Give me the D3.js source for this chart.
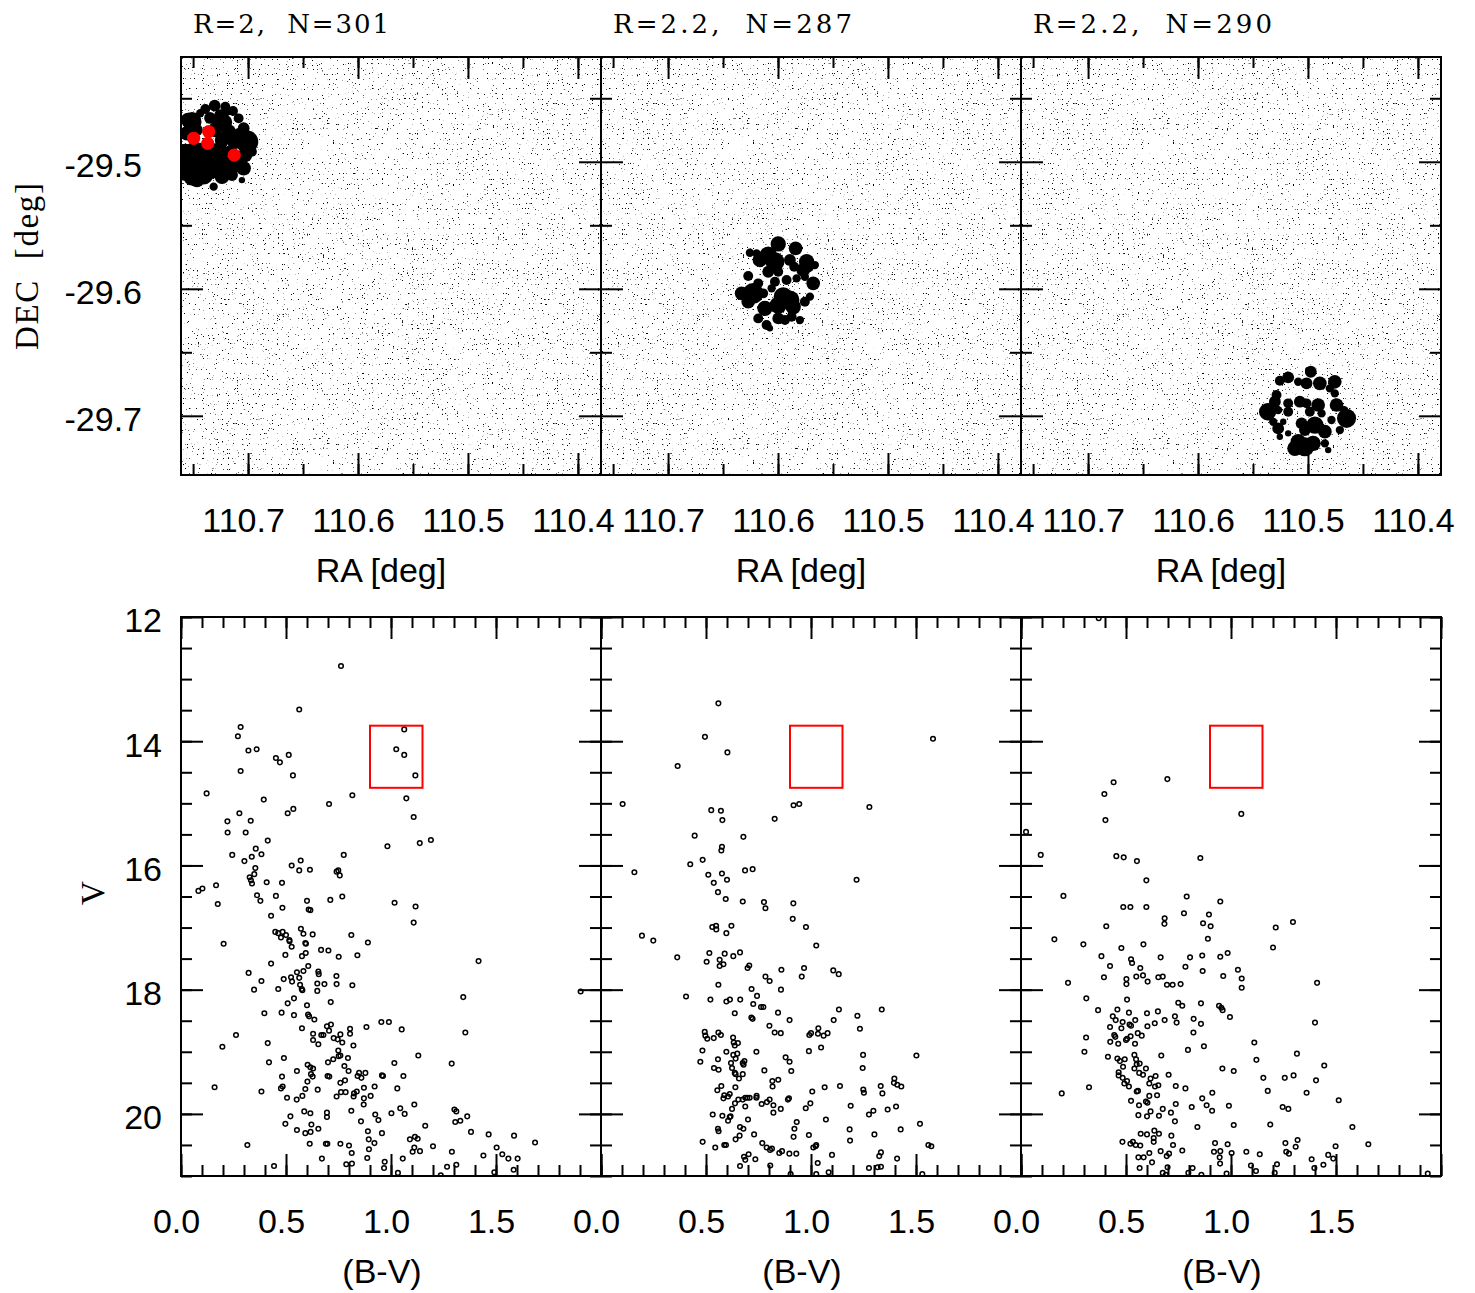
<!DOCTYPE html>
<html>
<head>
<meta charset="utf-8">
<script src="https://cdn.jsdelivr.net/npm/d3@7"></script>
<style>
  html, body { margin: 0; padding: 0; background: #fff; }
  svg { display: block; }
</style>
</head>
<body>
<svg id="fig" width="1475" height="1293"></svg>
<script>
// ---------------- data ----------------
const panelTitles = ["R=2,  N=301", "R=2.2,  N=287", "R=2.2,  N=290"];
const raTicks = [110.7, 110.6, 110.5, 110.4];
const decTicks = [-29.5, -29.6, -29.7];
const bvTicks = [0.0, 0.5, 1.0, 1.5];
const vTicks = [12, 14, 16, 18, 20];
const boxBV = [0.9, 1.15];
const boxV = [13.75, 14.75];

// cluster members on the sky: [RA, DEC, V]
const cluster1 = [
  [110.7389,-29.4584,16.63],[110.7304,-29.4558,15.89],[110.7207,-29.4566,16.63],[110.7137,-29.4600,16.63],
  [110.7192,-29.4606,17.26],[110.7435,-29.4618,17.26],[110.7253,-29.4632,15.89],[110.7086,-29.4658,16.63],
  [110.7510,-29.4684,13.73],[110.7267,-29.4697,14.84],[110.7040,-29.4736,15.89],[110.7176,-29.4763,14.84],
  [110.7010,-29.4842,13.24],[110.7556,-29.4776,14.84],[110.7237,-29.4829,14.84],[110.7419,-29.4894,15.89],
  [110.7571,-29.4947,13.24],[110.7510,-29.5025,12.50],[110.7358,-29.4999,13.24],[110.7237,-29.5025,13.62],
  [110.7116,-29.5012,13.73],[110.7040,-29.5051,14.84],[110.7404,-29.5104,13.73],[110.7237,-29.5118,14.84],
  [110.7510,-29.5118,13.98],[110.7313,-29.5196,17.26],[110.7056,-29.5144,18.00],[110.7146,-29.5104,15.89],
  [110.7601,-29.4999,13.73],[110.7344,-29.4947,14.84],[110.6965,-29.4921,16.63],[110.7465,-29.4750,15.89],
  [110.7298,-29.4894,16.63],[110.7162,-29.4907,16.63],[110.7483,-29.4907,13.98],[110.7301,-29.4750,14.84],
  [110.7210,-29.4687,14.84],[110.7074,-29.4789,14.84],[110.7546,-29.4671,14.84],[110.7165,-29.5025,13.98],
  [110.7328,-29.5065,13.98],[110.7574,-29.5081,13.98],[110.7028,-29.4947,14.84],[110.7437,-29.4986,13.98],
  [110.7119,-29.4844,14.84],[110.7237,-29.4923,14.84],[110.7346,-29.4655,15.89],[110.7465,-29.5144,14.84]
];
// members that fall inside the CMD box
const cluster1Box = [
  [110.7495,-29.4815,14.13],[110.7358,-29.4763,13.81],[110.7367,-29.4855,14.22],[110.7126,-29.4947,14.55]
];
const cluster2 = [
  [110.5998,-29.5647,14.52],[110.5840,-29.5681,15.15],[110.6089,-29.5734,13.98],[110.6165,-29.5773,14.84],
  [110.6028,-29.5787,13.73],[110.5892,-29.5773,15.89],[110.5740,-29.5787,14.52],[110.5771,-29.5852,15.15],
  [110.6195,-29.5721,17.26],[110.6256,-29.5716,17.26],[110.6089,-29.5866,15.89],[110.5998,-29.5866,16.63],
  [110.5853,-29.5826,16.63],[110.5726,-29.5826,15.89],[110.6271,-29.5899,16.63],[110.6180,-29.5957,16.63],
  [110.6028,-29.5944,16.63],[110.5922,-29.5931,16.63],[110.5831,-29.5918,17.26],[110.5756,-29.5905,17.26],
  [110.5680,-29.5957,15.15],[110.6331,-29.6036,15.15],[110.6226,-29.6036,13.50],[110.6271,-29.6102,15.15],
  [110.6135,-29.6036,16.63],[110.6058,-29.5996,17.26],[110.5953,-29.6062,13.73],[110.5892,-29.6088,13.73],
  [110.5998,-29.6128,13.98],[110.5862,-29.6141,14.52],[110.6119,-29.6154,14.52],[110.5756,-29.6102,16.63],
  [110.5710,-29.6062,17.26],[110.6180,-29.6233,16.63],[110.6104,-29.6285,16.63],[110.5998,-29.6233,15.89],
  [110.5937,-29.6246,16.63],[110.5876,-29.6220,16.63],[110.5801,-29.6246,17.26],[110.5665,-29.5813,17.26],
  [110.6074,-29.6311,18.00]
];
const cluster3 = [
  [110.5180,-29.6697,15.89],[110.5256,-29.6724,16.63],[110.5089,-29.6732,17.26],[110.5013,-29.6744,15.89],
  [110.4974,-29.6653,15.89],[110.4892,-29.6744,15.15],[110.4756,-29.6732,15.15],[110.4801,-29.6784,17.26],
  [110.5286,-29.6836,16.63],[110.5301,-29.6889,15.89],[110.5180,-29.6902,16.63],[110.5074,-29.6889,15.89],
  [110.5013,-29.6902,16.63],[110.4907,-29.6915,15.15],[110.4740,-29.6915,15.15],[110.4756,-29.6823,17.26],
  [110.5367,-29.6968,13.98],[110.5271,-29.6955,17.26],[110.5180,-29.6968,16.63],[110.4983,-29.6968,16.63],
  [110.4876,-29.6981,17.26],[110.4671,-29.6955,17.26],[110.4649,-29.7020,13.73],[110.5316,-29.7047,17.26],
  [110.5225,-29.7047,18.00],[110.5058,-29.7059,15.89],[110.4937,-29.7073,13.98],[110.4786,-29.7033,17.26],
  [110.5271,-29.7099,15.89],[110.5028,-29.7112,15.89],[110.4846,-29.7125,15.15],[110.4710,-29.7112,17.26],
  [110.5180,-29.7138,18.00],[110.5089,-29.7204,14.52],[110.5028,-29.7244,13.73],[110.4953,-29.7217,14.52],
  [110.5119,-29.7256,14.52],[110.4846,-29.7217,17.26],[110.4816,-29.7270,18.00],[110.5256,-29.7165,18.00],
  [110.4998,-29.6640,18.00]
];

// colour-magnitude diagrams: [B-V, V]
const cmd1 = [
  [0.762,12.79],[0.563,13.49],[1.063,13.81],[0.284,13.77],[0.271,13.92],[0.321,14.15],[0.360,14.13],[0.452,14.27],
  [0.471,14.34],[0.513,14.22],[1.025,14.13],[1.063,14.22],[1.116,14.55],[0.284,14.48],[0.533,14.55],[0.122,14.84],
  [0.816,14.87],[1.073,14.92],[0.394,14.94],[0.705,15.01],[0.535,15.09],[0.508,15.16],[0.278,15.16],[0.221,15.29],
  [0.332,15.28],[1.108,15.22],[0.222,15.47],[0.308,15.47],[0.413,15.60],[0.983,15.69],[1.137,15.64],[1.190,15.59],
  [0.244,15.83],[0.356,15.73],[0.383,15.82],[0.337,15.86],[0.775,15.83],[0.302,15.93],[0.570,15.92],[0.527,16.00],
  [0.354,16.04],[0.563,16.08],[0.614,16.07],[0.741,16.10],[0.749,16.08],[0.756,16.16],[0.349,16.14],[0.327,16.19],
  [0.333,16.24],[0.338,16.29],[0.408,16.27],[0.481,16.28],[0.167,16.32],[0.083,16.41],[0.102,16.37],[0.362,16.48],
  [0.452,16.49],[0.768,16.50],[0.378,16.57],[0.175,16.62],[0.483,16.68],[0.600,16.57],[0.608,16.71],[0.616,16.72],
  [0.711,16.555],[1.017,16.60],[1.117,16.66],[0.429,16.81],[1.108,16.92],[0.203,17.26],[0.571,17.02],[0.449,17.07],
  [0.463,17.09],[0.484,17.07],[0.476,17.16],[0.500,17.12],[0.516,17.20],[0.517,17.22],[0.583,17.10],[0.627,17.11],
  [0.592,17.25],[0.595,17.26],[0.527,17.31],[0.811,17.12],[0.890,17.24],[0.667,17.36],[0.702,17.37],[0.594,17.41],
  [0.576,17.46],[0.497,17.44],[0.751,17.47],[0.840,17.445],[1.417,17.54],[0.429,17.58],[0.322,17.73],[0.383,17.86],
  [0.348,18.00],[0.463,17.99],[0.489,17.83],[0.524,17.80],[0.529,17.87],[0.563,17.81],[0.552,17.72],[0.583,17.70],
  [0.606,17.62],[0.654,17.71],[0.656,17.75],[0.567,17.92],[0.575,17.99],[0.578,18.01],[0.649,17.90],[0.683,17.91],
  [0.740,17.78],[0.741,17.91],[0.649,18.02],[0.816,17.93],[1.903,18.03],[1.344,18.12],[0.713,18.20],[0.538,18.14],
  [0.508,18.22],[0.600,18.25],[0.397,18.38],[0.479,18.37],[0.538,18.41],[0.605,18.40],[0.610,18.43],[0.635,18.48],
  [0.262,18.73],[0.197,18.92],[0.576,18.62],[0.695,18.59],[0.714,18.56],[0.705,18.66],[0.629,18.71],[0.668,18.73],
  [0.678,18.73],[0.629,18.81],[0.654,18.88],[0.727,18.78],[0.746,18.80],[0.759,18.72],[0.768,18.85],[0.805,18.63],
  [0.805,18.71],[0.821,18.90],[0.883,18.60],[0.954,18.52],[0.990,18.52],[1.051,18.64],[1.354,18.69],[0.413,18.86],
  [0.749,18.98],[0.751,19.07],[0.759,19.06],[0.725,19.12],[0.700,19.17],[0.795,19.10],[1.130,19.06],[0.419,19.17],
  [0.490,19.10],[0.603,19.21],[0.616,19.25],[0.629,19.27],[0.552,19.31],[0.481,19.40],[0.619,19.36],[0.627,19.40],
  [0.698,19.39],[0.706,19.40],[0.778,19.23],[0.798,19.31],[0.848,19.34],[0.878,19.34],[0.841,19.39],[0.859,19.42],
  [0.957,19.38],[0.962,19.39],[1.059,19.39],[1.016,19.18],[1.289,19.19],[0.602,19.48],[0.484,19.56],[0.476,19.59],
  [0.160,19.57],[0.383,19.64],[0.592,19.60],[0.651,19.61],[0.578,19.71],[0.505,19.74],[0.551,19.77],[0.759,19.50],
  [0.781,19.46],[0.762,19.65],[0.784,19.65],[0.822,19.72],[0.824,19.67],[0.837,19.64],[0.741,19.72],[0.871,19.58],
  [0.871,19.75],[0.870,19.85],[0.903,19.71],[0.922,19.56],[1.030,19.59],[0.587,19.96],[0.616,19.99],[0.521,20.04],
  [0.497,20.16],[0.552,20.26],[0.592,20.31],[0.617,20.29],[0.621,20.17],[0.654,20.24],[0.695,19.98],[0.695,20.05],
  [0.811,19.95],[0.857,20.12],[0.925,20.01],[0.940,20.10],[1.002,19.99],[1.044,19.91],[1.065,20.00],[1.111,19.85],
  [1.163,20.19],[1.302,19.93],[1.311,19.96],[1.306,20.13],[1.330,20.11],[1.363,20.04],[1.381,20.29],[1.465,20.33],
  [1.586,20.35],[1.686,20.46],[0.890,20.28],[0.957,20.31],[0.894,20.41],[0.921,20.47],[0.895,20.57],[0.887,20.71],
  [1.090,20.41],[1.114,20.37],[1.127,20.40],[1.111,20.54],[1.103,20.61],[1.138,20.60],[1.200,20.52],[1.290,20.61],
  [0.316,20.50],[0.613,20.48],[0.690,20.48],[0.697,20.48],[0.759,20.48],[0.800,20.51],[0.813,20.63],[0.671,20.72],
  [0.787,20.81],[0.814,20.80],[0.443,20.84],[0.970,20.77],[0.967,20.87],[1.033,20.95],[1.056,20.72],[1.237,20.99],
  [1.267,20.85],[1.311,20.82],[1.440,20.67],[1.503,20.54],[1.530,20.65],[1.559,20.72],[1.603,20.72],[1.584,20.90],
  [1.492,20.94]
];
const cmd2 = [
  [0.559,13.39],[0.495,13.93],[0.602,14.18],[0.365,14.40],[1.581,13.96],[0.103,15.01],[0.525,15.11],[0.571,15.12],
  [0.578,15.27],[0.917,15.03],[0.944,15.01],[0.827,15.25],[1.278,15.06],[0.446,15.52],[0.678,15.54],[0.576,15.70],
  [0.573,15.76],[0.484,15.91],[0.425,15.98],[0.159,16.11],[0.511,16.15],[0.576,16.13],[0.537,16.28],[0.600,16.23],
  [0.686,16.08],[0.722,16.06],[1.217,16.23],[0.557,16.43],[0.594,16.54],[0.675,16.58],[0.776,16.59],[0.783,16.69],
  [0.916,16.61],[0.913,16.86],[0.976,16.99],[1.025,17.29],[0.195,17.13],[0.249,17.21],[0.363,17.48],[0.530,16.99],
  [0.548,16.97],[0.549,17.03],[0.621,16.97],[0.597,17.09],[0.516,17.41],[0.503,17.55],[0.589,17.42],[0.630,17.46],
  [0.662,17.40],[0.565,17.52],[0.565,17.62],[0.583,17.59],[0.698,17.65],[0.706,17.61],[0.783,17.79],[0.803,17.86],
  [0.859,17.68],[0.967,17.65],[0.956,17.79],[1.106,17.69],[1.132,17.75],[0.559,17.92],[0.405,18.11],[0.521,18.16],
  [0.597,18.19],[0.614,18.16],[0.663,18.16],[0.717,17.99],[0.743,18.10],[0.725,18.23],[0.762,18.28],[0.773,18.28],
  [0.857,18.00],[0.843,18.37],[0.637,18.38],[0.716,18.45],[0.722,18.47],[0.802,18.58],[0.827,18.69],[0.856,18.70],
  [0.898,18.49],[1.133,18.32],[1.108,18.49],[1.221,18.42],[1.337,18.32],[1.233,18.63],[0.992,18.73],[1.000,18.70],
  [1.035,18.62],[1.033,18.71],[1.060,18.74],[1.079,18.70],[1.048,18.93],[0.990,18.99],[0.494,18.68],[0.497,18.74],
  [0.506,18.79],[0.537,18.78],[0.559,18.69],[0.571,18.73],[0.629,18.77],[0.632,18.85],[0.637,18.90],[0.652,18.86],
  [0.483,18.98],[0.473,19.16],[0.597,19.00],[0.630,19.05],[0.649,19.03],[0.641,19.11],[0.619,19.18],[0.624,19.26],
  [0.557,19.12],[0.538,19.26],[0.560,19.29],[0.675,19.18],[0.683,19.15],[0.679,19.21],[0.637,19.34],[0.641,19.36],
  [0.657,19.43],[0.675,19.36],[0.740,19.00],[0.778,19.30],[0.879,19.09],[0.898,19.16],[0.906,19.31],[1.248,19.05],
  [1.246,19.26],[1.502,19.06],[0.573,19.55],[0.554,19.62],[0.640,19.57],[0.587,19.70],[0.583,19.75],[0.605,19.72],
  [0.613,19.68],[0.624,19.92],[0.638,19.83],[0.654,19.77],[0.675,19.77],[0.687,19.74],[0.697,19.74],[0.708,19.74],
  [0.687,19.88],[0.740,19.74],[0.741,19.71],[0.765,19.84],[0.790,19.81],[0.803,19.77],[0.821,19.86],[0.821,19.98],
  [0.856,19.92],[0.816,19.47],[0.817,19.56],[0.844,19.45],[0.890,19.77],[0.895,19.75],[0.975,19.91],[0.997,19.83],
  [1.006,19.64],[1.065,19.57],[1.138,19.55],[1.071,20.09],[1.189,19.87],[1.249,19.61],[1.252,19.66],[1.332,19.55],
  [1.340,19.67],[1.397,19.43],[1.395,19.50],[1.411,19.53],[1.430,19.56],[1.276,20.01],[1.297,19.95],[1.365,19.93],
  [1.405,19.88],[1.427,20.25],[1.519,20.16],[1.559,20.50],[1.573,20.52],[0.532,20.01],[0.578,20.03],[0.613,20.05],
  [0.605,20.11],[0.617,20.04],[0.700,20.09],[0.557,20.24],[0.560,20.28],[0.662,20.21],[0.678,20.24],[0.660,20.35],
  [0.641,20.41],[0.729,20.33],[0.484,20.45],[0.544,20.54],[0.587,20.50],[0.595,20.50],[0.768,20.47],[0.789,20.54],
  [0.805,20.58],[0.814,20.56],[0.849,20.63],[0.862,20.60],[0.897,20.64],[0.930,20.64],[0.917,20.37],[0.921,20.24],
  [0.932,20.13],[0.990,20.34],[1.011,20.54],[1.022,20.52],[1.025,20.50],[1.184,20.25],[1.186,20.43],[1.302,20.33],
  [1.100,20.66],[0.681,20.69],[0.687,20.74],[0.703,20.65],[0.735,20.73],[0.662,20.84],[0.806,20.83],[1.032,20.79],
  [1.025,20.97],[1.084,20.94],[0.903,20.97],[1.325,20.68],[1.333,20.62],[1.410,20.72],[1.276,20.87],[1.317,20.86],
  [1.333,20.85],[1.530,20.97]
];
const cmd3 = [
  [0.370,12.02],[0.441,14.66],[0.397,14.85],[0.697,14.61],[0.402,15.27],[1.049,15.17],[0.024,15.46],[0.094,15.83],
  [0.454,15.85],[0.489,15.87],[0.552,15.93],[0.854,15.88],[0.597,16.24],[0.202,16.49],[0.789,16.50],[0.487,16.67],
  [0.521,16.67],[0.597,16.67],[0.949,16.58],[0.776,16.77],[0.895,16.79],[0.684,16.85],[0.683,16.94],[0.867,16.93],
  [0.903,16.98],[0.406,16.98],[1.213,17.00],[1.295,16.91],[0.159,17.19],[0.297,17.27],[0.478,17.33],[0.583,17.27],
  [0.890,17.18],[1.200,17.32],[0.383,17.46],[0.524,17.51],[0.529,17.57],[0.665,17.48],[0.805,17.48],[0.863,17.45],
  [0.949,17.47],[0.984,17.41],[0.424,17.62],[0.568,17.65],[0.783,17.63],[0.865,17.70],[1.033,17.68],[0.395,17.80],
  [0.502,17.83],[0.502,17.91],[0.549,17.79],[0.581,17.77],[0.603,17.87],[0.654,17.80],[0.675,17.79],[0.695,17.92],
  [0.722,17.92],[0.760,17.91],[0.963,17.78],[1.051,17.82],[1.051,17.97],[1.410,17.89],[0.224,17.89],[0.311,18.14],
  [0.367,18.33],[0.505,18.16],[0.459,18.32],[0.437,18.43],[0.451,18.49],[0.484,18.52],[0.478,18.62],[0.514,18.37],
  [0.517,18.56],[0.524,18.58],[0.544,18.49],[0.424,18.60],[0.600,18.38],[0.602,18.59],[0.637,18.54],[0.652,18.35],
  [0.684,18.49],[0.733,18.43],[0.741,18.53],[0.749,18.21],[0.768,18.26],[0.822,18.47],[0.857,18.55],[0.857,18.22],
  [0.943,18.26],[0.954,18.29],[0.960,18.33],[0.995,18.44],[1.400,18.53],[0.310,18.77],[0.302,19.00],[0.425,18.84],
  [0.444,18.73],[0.449,18.76],[0.463,18.87],[0.505,18.79],[0.500,18.81],[0.522,18.75],[0.543,18.87],[0.556,18.70],
  [0.575,18.74],[0.821,18.69],[0.871,18.91],[0.795,18.97],[0.668,19.06],[1.111,18.85],[1.121,19.13],[1.314,19.03],
  [1.444,19.22],[0.414,19.08],[0.459,19.11],[0.471,19.15],[0.494,19.12],[0.486,19.24],[0.540,19.05],[0.548,19.12],
  [0.551,19.20],[0.540,19.27],[0.565,19.19],[0.595,19.27],[0.563,19.34],[0.581,19.37],[0.465,19.33],[0.465,19.38],
  [0.484,19.42],[0.492,19.51],[0.505,19.47],[0.514,19.56],[0.641,19.39],[0.617,19.43],[0.611,19.51],[0.638,19.56],
  [0.654,19.54],[0.703,19.37],[0.737,19.55],[0.783,19.59],[0.959,19.27],[1.013,19.31],[0.911,19.66],[1.154,19.42],
  [1.256,19.42],[1.298,19.38],[1.405,19.46],[1.175,19.63],[1.360,19.66],[0.194,19.67],[0.324,19.57],[0.551,19.64],
  [0.557,19.63],[0.524,19.79],[0.595,19.80],[0.602,19.82],[0.611,19.71],[0.648,19.70],[0.737,19.84],[0.863,19.75],
  [0.884,19.86],[0.813,19.89],[0.675,19.92],[0.562,19.86],[0.559,20.02],[0.600,20.04],[0.617,19.96],[0.657,20.03],
  [0.714,19.98],[0.733,20.12],[0.910,19.95],[0.990,19.87],[1.013,20.18],[0.840,20.21],[1.246,19.89],[1.273,19.92],
  [1.187,20.17],[1.513,19.78],[1.578,20.21],[0.570,20.32],[0.600,20.33],[0.635,20.27],[0.657,20.32],[0.632,20.39],
  [0.632,20.45],[0.716,20.35],[0.724,20.50],[0.483,20.45],[0.521,20.48],[0.533,20.45],[0.546,20.50],[0.568,20.51],
  [0.611,20.63],[0.665,20.60],[0.694,20.68],[0.705,20.64],[0.768,20.59],[0.559,20.70],[0.584,20.70],[0.624,20.78],
  [0.565,20.87],[0.698,20.86],[0.675,20.95],[0.690,20.98],[0.817,20.87],[0.797,20.95],[0.859,20.98],[0.924,20.47],
  [0.984,20.49],[0.919,20.61],[0.949,20.60],[0.946,20.70],[0.948,20.80],[1.003,20.63],[0.979,20.96],[1.073,20.61],
  [1.137,20.65],[1.095,20.83],[1.119,20.92],[1.219,20.81],[1.208,20.95],[1.259,20.47],[1.317,20.42],[1.308,20.53],
  [1.263,20.61],[1.276,20.64],[1.384,20.73],[1.397,20.87],[1.440,20.82],[1.463,20.66],[1.487,20.72],[1.498,20.52],
  [1.654,20.49],[1.937,20.96]
];

const panels = [
  { title: panelTitles[0], cluster: cluster1, boxStars: cluster1Box, cmd: cmd1 },
  { title: panelTitles[1], cluster: cluster2, boxStars: [],          cmd: cmd2 },
  { title: panelTitles[2], cluster: cluster3, boxStars: [],          cmd: cmd3 }
];

// ---------------- layout ----------------
const colX = [181, 601, 1021];
const PW = 420;
const SKY = { y: 57, h: 418 };
const CMD = { y: 617, h: 559 };
const MAJOR = 22, MINOR = 11;
const BOX_STAR_R = 6.6;
const sans = "'Liberation Sans', Arial, Helvetica, sans-serif";
const serif = "'DejaVu Serif', 'Liberation Serif', serif";
const serif2 = "'Liberation Serif', 'Times New Roman', serif";

const xSky = d3.scaleLinear().domain([110.761, 110.379]).range([0, PW]);
const ySky = d3.scaleLinear().domain([-29.4175, -29.7466]).range([0, SKY.h]);
const xCmd = d3.scaleLinear().domain([0, 2]).range([0, PW]);
const yCmd = d3.scaleLinear().domain([12, 21]).range([0, CMD.h]);
// symbol radius from V magnitude
const rMag = d3.scaleLinear().domain([12.5, 14.1, 18]).range([14, 8.2, 3.2]).clamp(true);

const svg = d3.select("#fig");
const defs = svg.append("defs");

// stippled field-star background
const f = defs.append("filter").attr("id", "field")
  .attr("x", 0).attr("y", 0).attr("width", 1).attr("height", 1)
  .attr("color-interpolation-filters", "sRGB");
f.append("feTurbulence").attr("type", "fractalNoise").attr("baseFrequency", 0.8)
  .attr("numOctaves", 1).attr("seed", 11).attr("result", "n");
f.append("feColorMatrix").attr("type", "matrix")
  .attr("values", "0 0 0 0 0  0 0 0 0 0  0 0 0 0 0  1 0 0 0 0");
const ct = f.append("feComponentTransfer");
ct.append("feFuncA").attr("type", "linear").attr("slope", 20).attr("intercept", -13.7);

defs.append("clipPath").attr("id", "clipSky")
  .append("rect").attr("width", PW).attr("height", SKY.h);
defs.append("clipPath").attr("id", "clipCmd")
  .append("rect").attr("width", PW).attr("height", CMD.h);

function styleAxis(g) {
  g.select(".domain").remove();
  g.selectAll(".tick line").attr("stroke", "#000").attr("stroke-width", 2);
}

// inward ticks on all four sides
function frameTicks(g, xs, ys, w, h, xMaj, xMin, yMaj, yMin) {
  const sets = [[xMin, MINOR, yMin], [xMaj, MAJOR, yMaj]];
  sets.forEach(([xv, len, yv]) => {
    g.append("g").attr("transform", `translate(0,${h})`)
      .call(d3.axisBottom(xs).tickValues(xv).tickSize(-len).tickFormat("")).call(styleAxis);
    g.append("g")
      .call(d3.axisTop(xs).tickValues(xv).tickSize(-len).tickFormat("")).call(styleAxis);
    g.append("g")
      .call(d3.axisLeft(ys).tickValues(yv).tickSize(-len).tickFormat("")).call(styleAxis);
    g.append("g").attr("transform", `translate(${w},0)`)
      .call(d3.axisRight(ys).tickValues(yv).tickSize(-len).tickFormat("")).call(styleAxis);
  });
}

function tickLabelsBottom(g, xs, values, h, fmt) {
  g.append("g").attr("transform", `translate(0,${h})`)
    .call(d3.axisBottom(xs).tickValues(values).tickSize(0).tickPadding(33).tickFormat(fmt))
    .call(a => {
      a.select(".domain").remove();
      a.selectAll("text").attr("x", -5).attr("fill", "#000")
        .style("font-family", sans).style("font-size", "34px");
    });
}
function tickLabelsLeft(g, ys, values, pad, fmt) {
  g.append("g")
    .call(d3.axisLeft(ys).tickValues(values).tickSize(0).tickPadding(pad).tickFormat(fmt))
    .call(a => {
      a.select(".domain").remove();
      a.selectAll("text").attr("y", 4).attr("fill", "#000")
        .style("font-family", sans).style("font-size", "34px");
    });
}

const raMinor = d3.range(110.40, 110.76, 0.05).map(v => +v.toFixed(2));
const decMinor = [-29.45, -29.55, -29.65];
const bvMinor = d3.range(0, 2.0001, 0.1).map(v => +v.toFixed(1));
const vMinor = d3.range(12, 21.0001, 0.5);
// plain hyphen for negative numbers
const fmt1 = d => d.toFixed(1);
const fmt0 = d => d.toFixed(0);

panels.forEach((p, i) => {
  // ---- sky map ----
  const gs = svg.append("g").attr("transform", `translate(${colX[i]},${SKY.y})`);
  gs.append("rect").attr("width", PW).attr("height", SKY.h)
    .attr("fill", "#fff").attr("filter", "url(#field)");
  const members = gs.append("g").attr("clip-path", "url(#clipSky)");
  members.selectAll("circle.m").data(p.cluster).join("circle").attr("class", "m")
    .attr("cx", d => xSky(d[0])).attr("cy", d => ySky(d[1])).attr("r", d => rMag(d[2]))
    .attr("fill", "#000");
  members.selectAll("circle.b").data(p.boxStars).join("circle").attr("class", "b")
    .attr("cx", d => xSky(d[0])).attr("cy", d => ySky(d[1])).attr("r", BOX_STAR_R)
    .attr("fill", "#ff0000");
  frameTicks(gs, xSky, ySky, PW, SKY.h,
    raTicks, raMinor, decTicks, decMinor);
  gs.append("rect").attr("width", PW).attr("height", SKY.h)
    .attr("fill", "none").attr("stroke", "#000").attr("stroke-width", 2);
  tickLabelsBottom(gs, xSky, raTicks, SKY.h, fmt1);
  if (i === 0) tickLabelsLeft(gs, ySky, decTicks, 39, fmt1);

  gs.append("text").attr("x", 12).attr("y", 33 - SKY.y)
    .attr("xml:space", "preserve").style("white-space", "pre")
    .style("font-family", serif).style("font-size", "26px")
    .attr("textLength", i === 0 ? 196 : 239).attr("lengthAdjust", "spacing")
    .text(p.title);

  gs.append("text").attr("x", 200).attr("y", 582 - SKY.y)
    .attr("text-anchor", "middle")
    .style("font-family", sans).style("font-size", "34px")
    .text("RA [deg]");

  // ---- colour-magnitude diagram ----
  const gc = svg.append("g").attr("transform", `translate(${colX[i]},${CMD.y})`);
  gc.append("g").attr("clip-path", "url(#clipCmd)")
    .selectAll("circle").data(p.cmd).join("circle")
    .attr("cx", d => xCmd(d[0])).attr("cy", d => yCmd(d[1])).attr("r", 2.3)
    .attr("fill", "none").attr("stroke", "#000").attr("stroke-width", 1.5);
  gc.append("rect")
    .attr("x", xCmd(boxBV[0])).attr("y", yCmd(boxV[0]))
    .attr("width", xCmd(boxBV[1]) - xCmd(boxBV[0]))
    .attr("height", yCmd(boxV[1]) - yCmd(boxV[0]))
    .attr("fill", "none").attr("stroke", "#ff0000").attr("stroke-width", 2);
  frameTicks(gc, xCmd, yCmd, PW, CMD.h,
    [0, 0.5, 1.0, 1.5, 2.0], bvMinor, vTicks, vMinor);
  gc.append("rect").attr("width", PW).attr("height", CMD.h)
    .attr("fill", "none").attr("stroke", "#000").attr("stroke-width", 2);
  tickLabelsBottom(gc, xCmd, bvTicks, CMD.h, fmt1);
  if (i === 0) tickLabelsLeft(gc, yCmd, vTicks, 19, fmt0);

  gc.append("text").attr("x", 201).attr("y", 1283 - CMD.y)
    .attr("text-anchor", "middle")
    .style("font-family", sans).style("font-size", "34px")
    .text("(B-V)");
});

// y-axis titles
svg.append("text").attr("transform", "translate(38,266.5) rotate(-90)")
  .attr("text-anchor", "middle")
  .style("font-family", serif2).style("font-size", "33px")
  .attr("textLength", 167).attr("lengthAdjust", "spacing")
  .attr("xml:space", "preserve").style("white-space", "pre")
  .text("DEC  [deg]");
svg.append("text").attr("transform", "translate(104,893) rotate(-90)")
  .attr("text-anchor", "middle")
  .style("font-family", serif2).style("font-size", "33px")
  .text("V");
</script>
</body>
</html>
